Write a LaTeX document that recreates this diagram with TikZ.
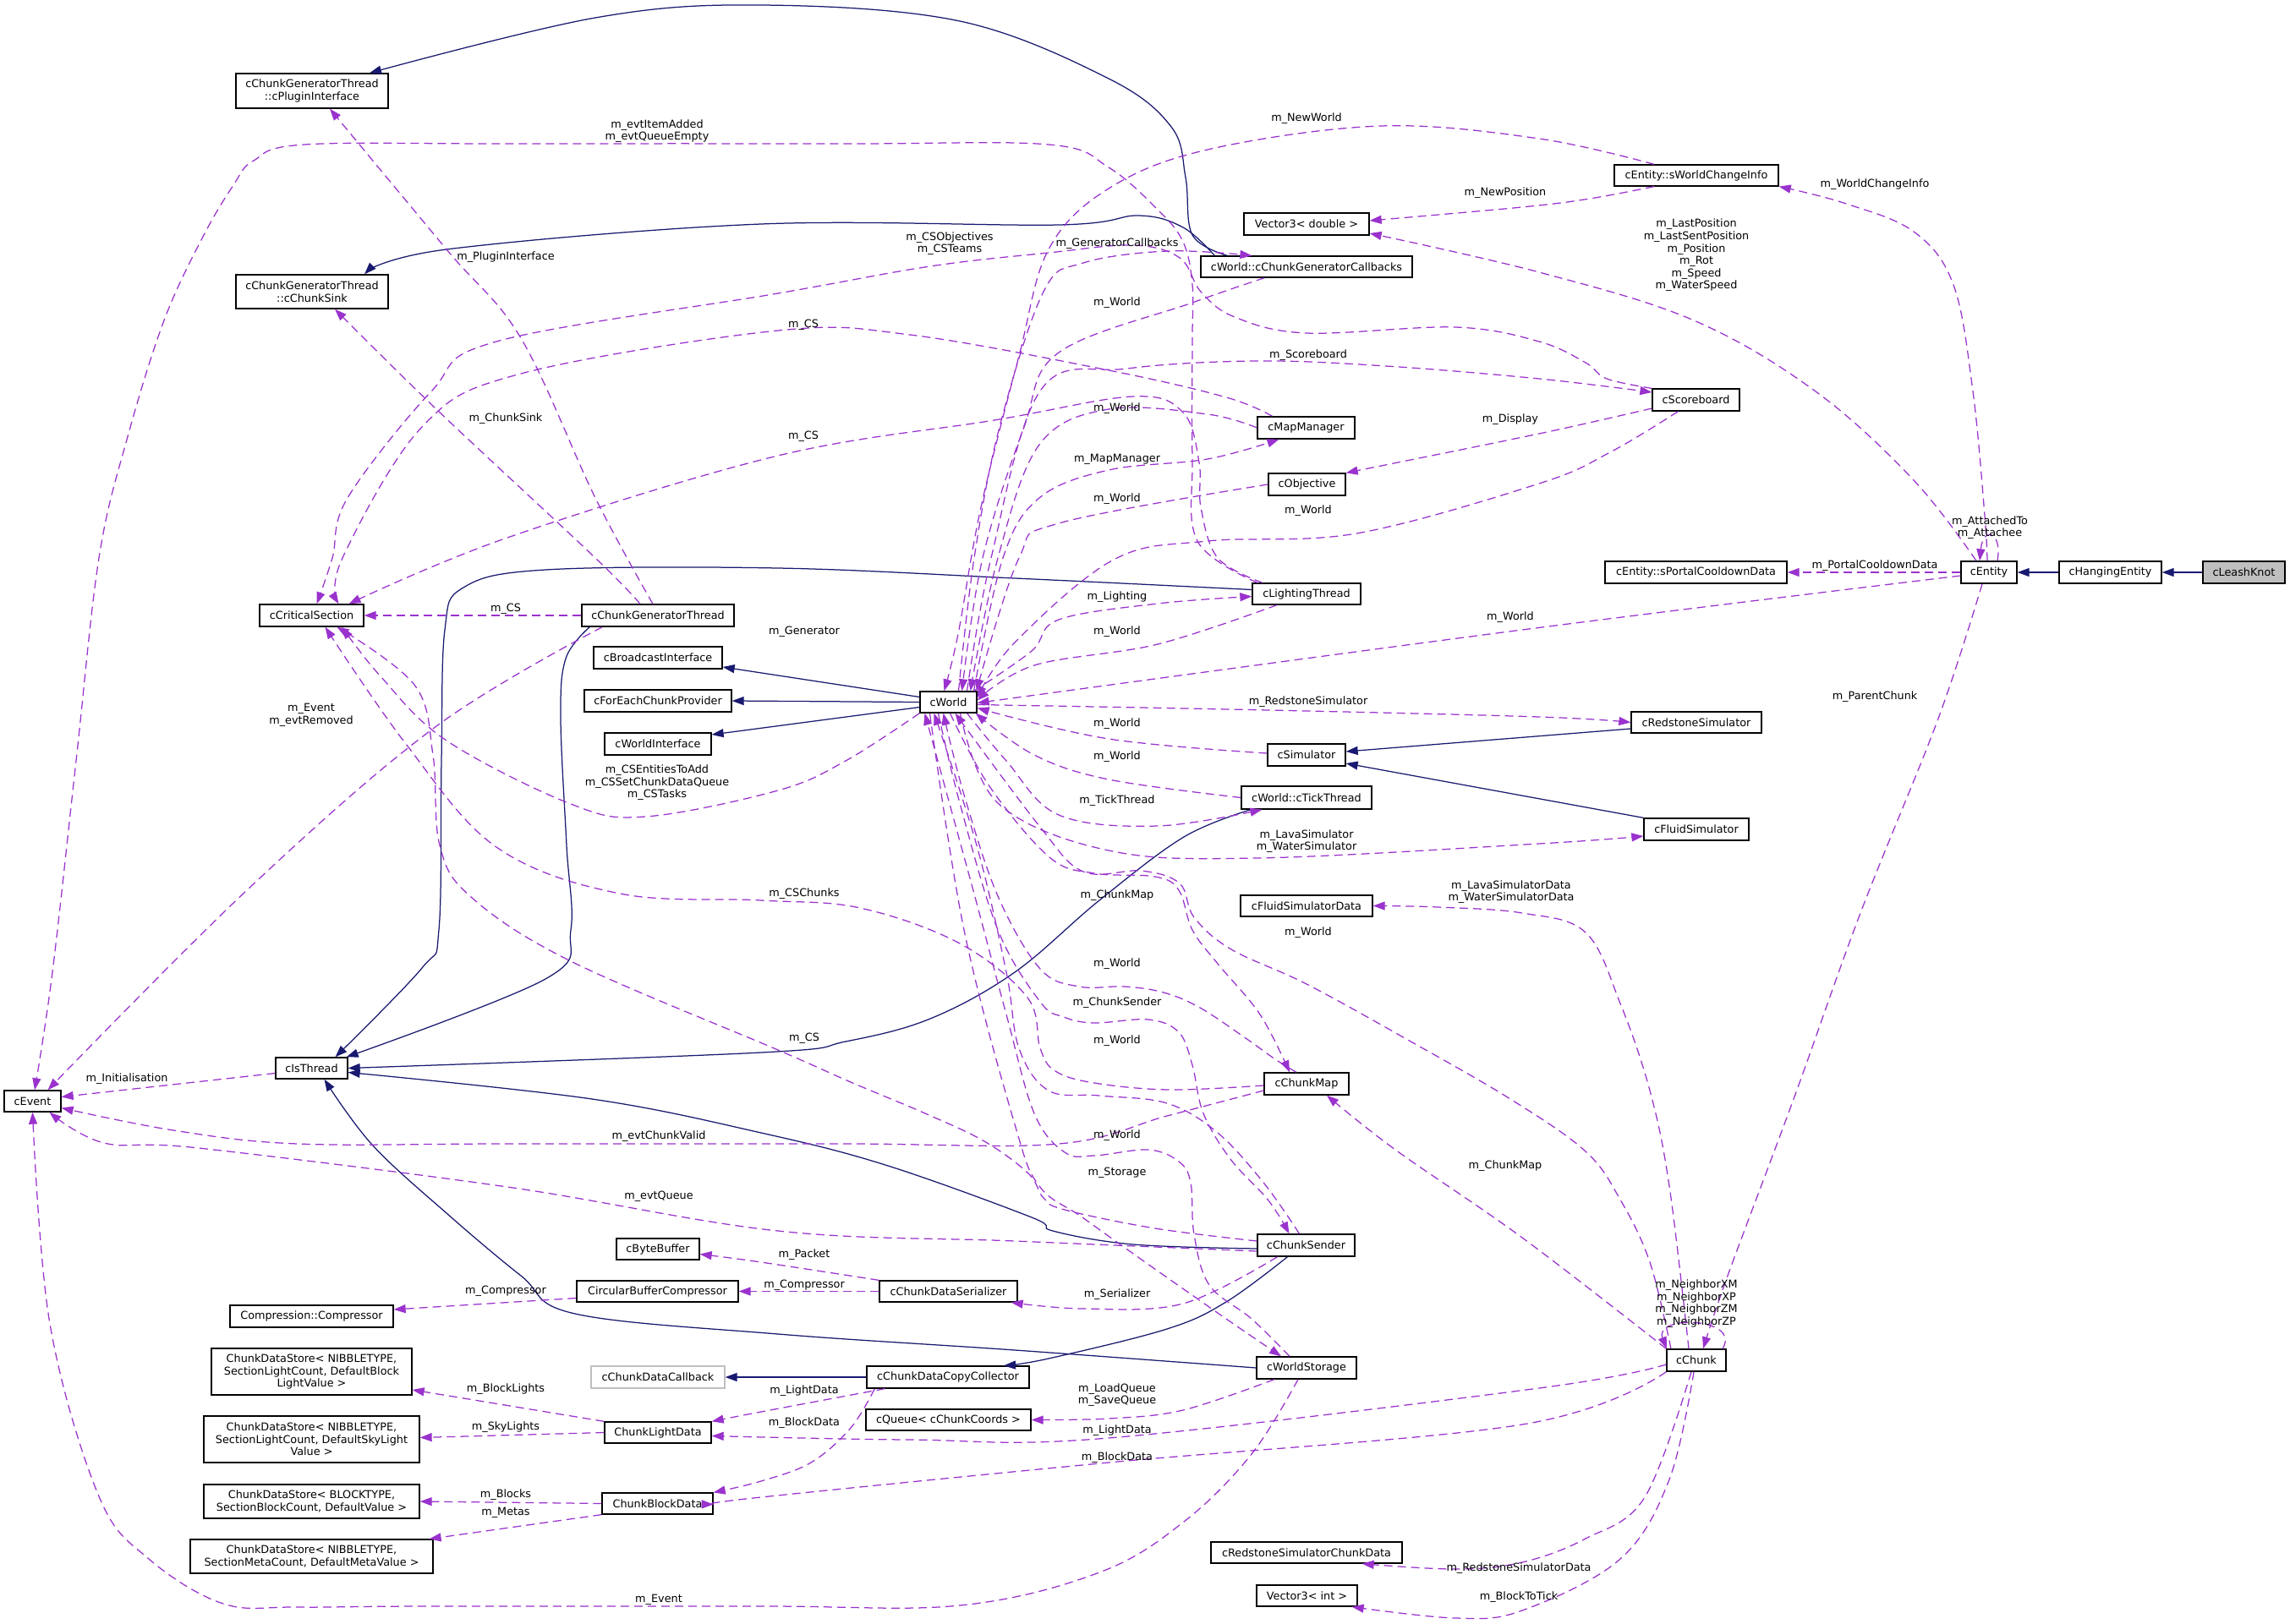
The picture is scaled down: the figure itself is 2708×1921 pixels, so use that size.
\documentclass[tikz,border=0pt]{standalone}
\usepackage{fontspec}
\setmainfont{DejaVu Sans}
\usetikzlibrary{arrows.meta}
\definecolor{inhc}{HTML}{191970}
\definecolor{usec}{HTML}{9A32CD}
\newcommand\lblfont{\fontsize{12.8}{14.6}\selectfont}
\begin{document}
\begin{tikzpicture}[x=1pt,y=-1pt,
 box/.style={draw=black, line width=1.3pt, fill=white, inner sep=0pt, font=\lblfont, align=center},
 inh/.style={draw=inhc, line width=1.25pt, -{Triangle[length=14pt,width=10pt]}},
 use/.style={draw=usec, line width=1.25pt, dash pattern=on 10pt off 6pt, -{Triangle[length=14pt,width=10pt]}},
 lab/.style={font=\lblfont, inner sep=0pt, align=center}]
\fill[white] (0,0) rectangle (2708,1921);
\useasboundingbox (0,0) rectangle (2708,1921);

% ---------- nodes ----------
\node[box, minimum width=180pt, minimum height=41pt] (pluginif) at (369,107.5) {cChunkGeneratorThread\\::cPluginInterface};
\node[box, minimum width=180pt, minimum height=40pt] (chunksink) at (369,345) {cChunkGeneratorThread\\::cChunkSink};
\node[box, minimum width=148pt, minimum height=26pt] (vec3d) at (1545,265) {Vector3< double >};
\node[box, minimum width=250pt, minimum height=25pt] (callbacks) at (1545,315.5) {cWorld::cChunkGeneratorCallbacks};
\node[box, minimum width=115pt, minimum height=26pt] (mapmgr) at (1544.5,506) {cMapManager};
\node[box, minimum width=91pt, minimum height=26pt] (objective) at (1545.5,573) {cObjective};
\node[box, minimum width=194pt, minimum height=25pt] (wci) at (2006,207.5) {cEntity::sWorldChangeInfo};
\node[box, minimum width=103pt, minimum height=26pt] (scoreboard) at (2005.5,473) {cScoreboard};
\node[box, minimum width=123pt, minimum height=26pt] (critsec) at (368.5,728) {cCriticalSection};
\node[box, minimum width=180pt, minimum height=26pt] (cgt) at (778,728) {cChunkGeneratorThread};
\node[box, minimum width=152pt, minimum height=26pt] (bcast) at (778,778) {cBroadcastInterface};
\node[box, minimum width=174pt, minimum height=26pt] (foreach) at (778,829) {cForEachChunkProvider};
\node[box, minimum width=126pt, minimum height=26pt] (worldif) at (778,880) {cWorldInterface};
\node[box, minimum width=85pt, minimum height=25pt] (isthread) at (368.5,1263.5) {cIsThread};
\node[box, minimum width=67pt, minimum height=25pt] (event) at (38.5,1302.5) {cEvent};
\node[box, minimum width=128pt, minimum height=25pt] (lighting) at (1545,702.5) {cLightingThread};
\node[box, minimum width=67pt, minimum height=25pt] (world) at (1121.5,830.5) {cWorld};
\node[box, minimum width=92pt, minimum height=26pt] (simulator) at (1545,893) {cSimulator};
\node[box, minimum width=154pt, minimum height=27pt] (tick) at (1545,943.5) {cWorld::cTickThread};
\node[box, minimum width=156pt, minimum height=25pt] (fsd) at (1545,1071.5) {cFluidSimulatorData};
\node[box, minimum width=100pt, minimum height=26pt] (chunkmap) at (1545,1282) {cChunkMap};
\node[box, minimum width=215pt, minimum height=26pt] (portal) at (2005.5,677) {cEntity::sPortalCooldownData};
\node[box, minimum width=66pt, minimum height=26pt] (entity) at (2352,677) {cEntity};
\node[box, minimum width=121pt, minimum height=26pt] (hanging) at (2495.5,677) {cHangingEntity};
\node[box, minimum width=97pt, minimum height=26pt, fill=black!25] (leash) at (2653.5,677) {cLeashKnot};
\node[box, minimum width=154pt, minimum height=25pt] (rsim) at (2006,854.5) {cRedstoneSimulator};
\node[box, minimum width=124pt, minimum height=26pt] (fsim) at (2006,981) {cFluidSimulator};
\node[box, minimum width=98pt, minimum height=25pt] (bytebuf) at (778,1477.5) {cByteBuffer};
\node[box, minimum width=191pt, minimum height=25pt] (cbc) at (777.5,1527.5) {CircularBufferCompressor};
\node[box, minimum width=193pt, minimum height=26pt] (compressor) at (368.5,1557) {Compression::Compressor};
\node[box, minimum width=237pt, minimum height=55pt] (dsbl) at (368.5,1622.5) {ChunkDataStore< NIBBLETYPE,\\ SectionLightCount, DefaultBlock\\LightValue >};
\node[box, minimum width=255pt, minimum height=55pt] (dssl) at (368.5,1702.5) {ChunkDataStore< NIBBLETYPE,\\ SectionLightCount, DefaultSkyLight\\Value >};
\node[box, minimum width=255pt, minimum height=40pt] (dsb) at (368.5,1776) {ChunkDataStore< BLOCKTYPE,\\ SectionBlockCount, DefaultValue >};
\node[box, minimum width=287pt, minimum height=40pt] (dsm) at (368.5,1841) {ChunkDataStore< NIBBLETYPE,\\ SectionMetaCount, DefaultMetaValue >};
\node[box, draw=black!25, minimum width=158pt, minimum height=26pt] (callback) at (778,1629) {cChunkDataCallback};
\node[box, minimum width=126pt, minimum height=25pt] (lightdata) at (778,1694.5) {ChunkLightData};
\node[box, minimum width=131pt, minimum height=25pt] (blockdata) at (777.5,1778.5) {ChunkBlockData};
\node[box, minimum width=115pt, minimum height=26pt] (sender) at (1544.5,1473) {cChunkSender};
\node[box, minimum width=163pt, minimum height=25pt] (serializer) at (1121.5,1527.5) {cChunkDataSerializer};
\node[box, minimum width=192pt, minimum height=26pt] (cdcc) at (1121,1629) {cChunkDataCopyCollector};
\node[box, minimum width=118pt, minimum height=26pt] (storage) at (1545,1618) {cWorldStorage};
\node[box, minimum width=195pt, minimum height=25pt] (queue) at (1121.5,1679.5) {cQueue< cChunkCoords >};
\node[box, minimum width=226pt, minimum height=25pt] (rscd) at (1545,1836.5) {cRedstoneSimulatorChunkData};
\node[box, minimum width=119pt, minimum height=25pt] (vec3i) at (1545.5,1887.5) {Vector3< int >};
\node[box, minimum width=70pt, minimum height=26pt] (chunk) at (2006,1609) {cChunk};

% ---------- inheritance ----------
\draw[inh] plot[smooth,tension=.6] coordinates {([xshift=32pt]callbacks.north west) (1410,278) (1402,210) (1385,150) (1311,93) (1135,25) (900,6) (704,21) ([xshift=68pt]pluginif.north)};
\draw[inh] plot[smooth,tension=.6] coordinates {([xshift=17pt]callbacks.north west) (1399,269) (1346,255) (1252,266) (900,265) (528,295) ([xshift=62pt]chunksink.north)};
\draw[inh] plot[smooth,tension=.6] coordinates {([yshift=5pt]lighting.west) (1200,684) (920,672) (645,674) (548,695) (526,745) (522,900) (519,1100) (499,1145) ([xshift=28pt]isthread.north)};
\draw[inh] plot[smooth,tension=.6] coordinates {([xshift=10pt]cgt.south west) (669,779) (663,850) (670,1000) (675,1100) (645,1158) ([xshift=-2pt]isthread.north east)};
\draw[inh] (world.170) -- ([yshift=-11pt]bcast.east);
\draw[inh] (world.west) -- (foreach.east);
\draw[inh] (world.190) -- ([yshift=11pt]worldif.east);
\draw[inh] plot[smooth,tension=.6] coordinates {([xshift=12pt]tick.south west) (1400,990) (1300,1065) (1200,1150) (1100,1205) (1000,1232) (900,1245) (isthread.east)};
\draw[inh] plot[smooth,tension=.6] coordinates {([yshift=-4pt]sender.west) (1340,1472) (1245,1456) (1220,1440) (1047,1378) (900,1340) (700,1300) ([yshift=-5pt]isthread.east)};
\draw[inh] plot[smooth,tension=.6] coordinates {(storage.west) (1200,1597) (920,1578) (680,1554) (616,1509) (528,1435) (440,1354) ([xshift=15pt]isthread.south)};
\draw[inh] ([yshift=-7.5pt]rsim.west) -- ([yshift=4pt]simulator.east);
\draw[inh] (fsim.north west) -- ([yshift=-10pt]simulator.east);
\draw[inh] (hanging.west) -- (entity.east);
\draw[inh] (leash.west) -- (hanging.east);
\draw[inh] plot[smooth,tension=.6] coordinates {([xshift=-22pt]sender.south) (1450,1540) (1380,1572) (1240,1607) ([xshift=66pt]cdcc.north)};
\draw[inh] (cdcc.west) -- (callback.east);

% ---------- usage ----------
% to cEvent
\draw[use] plot[smooth,tension=.6] coordinates {([xshift=-58pt]lighting.north) (1416,640) (1410,540) (1410,400) (1410,337) (1399,286) (1369,248) (1311,198) (1240,171) (1000,170) (600,170) (360,171) (300,190) (276,219) (240,280) (194,379) (150,520) (117,660) (90,900) (62,1150) ([xshift=2.5pt]event.north)};
\draw[use] plot[smooth,tension=.6] coordinates {([xshift=25pt]cgt.south west) (516,859) (293,1052) ([xshift=18pt]event.north)};
\draw[use] ([yshift=-6pt]isthread.west) -- ([yshift=5pt]event.east);
\draw[use] plot[smooth,tension=.6] coordinates {([yshift=-8pt]chunkmap.west) (1380,1320) (1252,1353) (1000,1353) (600,1353) (352,1353) (205,1337) ([yshift=-8pt]event.east)};
\draw[use] plot[smooth,tension=.6] coordinates {([yshift=-7pt]sender.west) (1200,1468) (920,1456) (600,1404) (235,1358) (123,1352) ([xshift=20pt]event.south)};
\draw[use] plot[smooth,tension=.6] coordinates {([xshift=-10pt]storage.south) (1480,1720) (1400,1800) (1300,1860) (1135,1899) (900,1900) (500,1900) (352,1901) (264,1897) (176,1844) (117,1770) (59,1566) (event.south)};
% to cCriticalSection
\draw[use] (cgt.west) -- (critsec.east);
\draw[use] plot[smooth,tension=.6] coordinates {(scoreboard.north west) (1900,448) (1875,429) (1820,404) (1721,387) (1545,394) (1460,375) (1420,345) (1395,305) (1340,290) (1240,299) (1100,315) (920,347) (587,404) (510,463) (411,589) (393,660) ([xshift=6pt]critsec.north)};
\draw[use] plot[smooth,tension=.6] coordinates {([xshift=-40pt]mapmgr.north) (1450,470) (1311,438) (1076,396) (920,391) (616,442) (499,505) (405,660) ([xshift=32pt]critsec.north)};
\draw[use] plot[smooth,tension=.6] coordinates {([xshift=-52pt]lighting.north) (1440,660) (1420,600) (1418,547) (1399,488) (1340,469) (1176,497) (920,539) (600,636) ([xshift=44pt]critsec.north)};
\draw[use] plot[smooth,tension=.6] coordinates {(world.south west) (1000,900) (920,935) (763,966) (675,951) (528,876) (450,800) ([xshift=36pt]critsec.south)};
\draw[use] plot[smooth,tension=.6] coordinates {([yshift=-2pt]chunkmap.west) (1383,1289) (1294,1281) (1248,1267) (1230,1240) (1215,1180) (1135,1116) (1017,1074) (900,1065) (733,1057) (587,1002) (480,880) ([xshift=16pt]critsec.south)};
\draw[use] plot[smooth,tension=.6] coordinates {([yshift=5pt]sender.west) (1366,1453) (1259,1431) (1234,1417) (1216,1388) (1164,1350) (1094,1317) (1006,1280) (920,1242) (675,1137) (557,1061) (520,1000) (512,893) (490,810) ([xshift=30pt]critsec.south)};
% top area
\draw[use] plot[smooth,tension=.6] coordinates {([xshift=-6pt]cgt.north) (704,589) (616,400) (528,295) ([xshift=21pt]pluginif.south)};
\draw[use] plot[smooth,tension=.6] coordinates {([xshift=-21pt]cgt.north) (704,660) (516,484) ([xshift=27pt]chunksink.south)};
\draw[use] plot[smooth,tension=.6] coordinates {([xshift=-50pt]wci.north) (1820,164) (1633,149) (1428,177) (1311,223) (1240,295) (1205,421) (1160,600) (1133,750) ([xshift=-5pt]world.north)};
\draw[use] plot[smooth,tension=.6] coordinates {([xshift=-50pt]wci.south) (1880,235) (1800,245) ([yshift=4pt]vec3d.east)};
\draw[use] plot[smooth,tension=.6] coordinates {([xshift=-15pt]entity.north) (2263,568) (2147,463) (2003,379) (1820,322) ([yshift=-11pt]vec3d.east)};
\draw[use] plot[smooth,tension=.6] coordinates {([xshift=-2pt]entity.north) (2347,610) (2333,463) (2310,337) (2263,274) (2180,240) (wci.south east)};
\draw[use] ([xshift=10pt]entity.north) .. controls (2368,628) and (2345,622) .. ([xshift=-11pt]entity.north);
\draw[use] plot[smooth,tension=.6] coordinates {([xshift=12pt]world.north) (1152,660) (1182,505) (1234,345) (1281,311) (1381,297) ([xshift=61pt]callbacks.north west)};
\draw[use] plot[smooth,tension=.6] coordinates {([xshift=76pt]callbacks.south west) (1410,358) (1252,417) (1211,505) (1162,660) ([xshift=16pt]world.north)};
\draw[use] plot[smooth,tension=.6] coordinates {([xshift=22pt]world.north) (1172,660) (1231,461) (1333,436) (1486,427) (1639,433) (1820,448) ([yshift=9pt]scoreboard.west)};
\draw[use] plot[smooth,tension=.6] coordinates {(mapmgr.west) (1428,490) (1311,484) (1229,526) (1180,660) ([xshift=26pt]world.north)};
\draw[use] plot[smooth,tension=.6] coordinates {([xshift=30pt]world.north) (1186,660) (1229,589) (1311,556) (1428,543) ([xshift=-32pt]mapmgr.south)};
\draw[use] plot[smooth,tension=.6] coordinates {(objective.west) (1252,619) (1205,660) ([xshift=-1pt]world.north east)};
\draw[use] plot[smooth,tension=.6] coordinates {([yshift=-10pt]scoreboard.west) (1820,513) (objective.north east)};
\draw[use] plot[smooth,tension=.6] coordinates {([xshift=-21pt]scoreboard.south) (1904,535) (1820,572) (1604,631) (1428,640) (1317,662) (1200,760) ([yshift=5pt]world.east)};
% right of cWorld
\draw[use] plot[smooth,tension=.6] coordinates {([xshift=-4pt]world.north east) (1220,770) (1252,733) (1369,714) ([yshift=-3pt]lighting.west)};
\draw[use] plot[smooth,tension=.6] coordinates {([xshift=-35pt]lighting.south) (1369,762) (1223,787) ([yshift=2pt]world.east)};
\draw[use] plot[smooth,tension=.6] coordinates {([yshift=-4pt]entity.west) (1800,745) ([yshift=-1pt]world.east)};
\draw[use] plot[smooth,tension=.6] coordinates {([yshift=-3pt]world.east) (1500,840) (1820,848) (rsim.west)};
\draw[use] plot[smooth,tension=.6] coordinates {([yshift=2pt]simulator.west) (1311,874) ([yshift=-7pt]world.east)};
\draw[use] plot[smooth,tension=.6] coordinates {(tick.west) (1311,922) (1223,893) ([xshift=-2pt]world.south east)};
\draw[use] plot[smooth,tension=.6] coordinates {([xshift=22pt]world.south) (1190,900) (1252,964) (1369,977) ([xshift=25pt]tick.south west)};
\draw[use] plot[smooth,tension=.6] coordinates {([xshift=14pt]world.south) (1180,950) (1311,1006) (1487,1015) (1820,998) ([yshift=-8pt]fsim.west)};
\draw[use] plot[smooth,tension=.6] coordinates {([xshift=-9pt]chunk.north) (1974,1403) (1951,1290) (1916,1187) (1875,1103) (1800,1080) (1700,1073) (fsd.east)};
\draw[use] plot[smooth,tension=.6] coordinates {([xshift=-30pt]chunk.north) (1951,1493) (1916,1419) (1875,1362) (1786,1300) (1663,1229) (1545,1164) (1456,1123) (1412,1085) (1395,1045) (1350,1030) (1281,1031) (1229,977) ([xshift=8pt]world.south)};
% below cWorld
\draw[use] plot[smooth,tension=.6] coordinates {([xshift=2pt]world.south) (1170,930) (1241,1014) (1294,1033) (1366,1037) (1394,1053) (1410,1100) (1440,1140) (1490,1200) ([xshift=-20pt]chunkmap.north)};
\draw[use] plot[smooth,tension=.6] coordinates {([xshift=-12pt]chunkmap.north) (1508,1253) (1473,1228) (1419,1192) (1376,1174) (1330,1167) (1276,1167) (1230,1146) (1180,1060) (1140,940) ([xshift=-6pt]world.south)};
\draw[use] plot[smooth,tension=.6] coordinates {([xshift=-12pt]world.south) (1135,950) (1180,1100) (1230,1185) (1258,1203) (1294,1210) (1358,1206) (1394,1221) (1410,1260) (1423,1317) (1455,1371) (1500,1420) ([xshift=-20pt]sender.north)};
\draw[use] plot[smooth,tension=.6] coordinates {([xshift=-8pt]sender.north) (1495,1400) (1440,1340) (1380,1305) (1300,1296) (1240,1290) (1205,1240) (1190,1150) (1155,1000) ([xshift=-17pt]world.south)};
\draw[use] plot[smooth,tension=.6] coordinates {([xshift=-22pt]world.south) (1140,1100) (1200,1330) (1229,1403) (1280,1440) (1350,1490) (1450,1560) ([xshift=-30pt]storage.north)};
\draw[use] plot[smooth,tension=.6] coordinates {([xshift=-20pt]storage.north) (1480,1560) (1430,1520) (1412,1460) (1408,1399) (1394,1374) (1358,1360) (1294,1367) (1259,1363) (1223,1317) (1190,1200) (1150,1050) ([xshift=-28pt]world.south)};
\draw[use] plot[smooth,tension=.6] coordinates {(chunk.north west) (1800,1464) (1650,1360) ([xshift=24pt]chunkmap.south)};
\draw[use] ([xshift=31pt]chunk.north) .. controls (2060,1558) and (1955,1555) .. ([xshift=-35pt]chunk.north);
\draw[use] plot[smooth,tension=.6] coordinates {([xshift=-8pt]entity.south) (2292,850) (2200,1080) (2121,1300) (2043,1509) ([xshift=8pt]chunk.north)};
\draw[use] (entity.west) -- (portal.east);
% lower area
\draw[use] plot[smooth,tension=.6] coordinates {(serializer.north west) (900,1493) ([yshift=-6pt]bytebuf.east)};
\draw[use] (serializer.west) -- (cbc.east);
\draw[use] ([yshift=-8pt]cbc.west) -- ([yshift=8pt]compressor.east);
\draw[use] plot[smooth,tension=.6] coordinates {([xshift=-34pt]sender.south) (1399,1542) (1281,1548) ([xshift=-8pt]serializer.south east)};
\draw[use] plot[smooth,tension=.6] coordinates {([xshift=22pt]cdcc.south west) (900,1670) (lightdata.north east)};
\draw[use] plot[smooth,tension=.6] coordinates {([xshift=10pt]cdcc.south west) (1006,1689) (959,1730) (900,1752) (blockdata.north east)};
\draw[use] plot[smooth,tension=.6] coordinates {([yshift=-5pt]chunk.west) (1820,1642) (1311,1701) (1076,1703) ([yshift=-4pt]lightdata.east)};
\draw[use] plot[smooth,tension=.6] coordinates {(chunk.south west) (1800,1685) (1311,1730) (900,1771) ([yshift=-1pt]blockdata.east)};
\draw[use] (lightdata.north west) -- ([yshift=-21.5pt]dsbl.east);
\draw[use] (lightdata.west) -- ([yshift=2pt]dssl.east);
\draw[use] (blockdata.west) -- (dsb.east);
\draw[use] (blockdata.south west) -- ([xshift=-5pt]dsm.north east);
\draw[use] plot[smooth,tension=.6] coordinates {([xshift=-38pt]storage.south) (1399,1668) (1311,1678) (queue.east)};
\draw[use] plot[smooth,tension=.6] coordinates {([xshift=-6pt]chunk.south) (1945,1771) (1875,1820) (1800,1848) (1721,1856) ([xshift=-48pt]rscd.south east)};
\draw[use] plot[smooth,tension=.6] coordinates {([xshift=-3pt]chunk.south) (1974,1750) (1916,1844) (1800,1905) (1721,1914) ([xshift=-7pt]vec3i.south east)};

% ---------- labels ----------
\node[lab] (l1) at (777,155) {m\_evtItemAdded\\m\_evtQueueEmpty};
\node[lab] (l2) at (598,304) {m\_PluginInterface};
\node[lab] (l3) at (598,495) {m\_ChunkSink};
\node[lab] (l4) at (1545,140) {m\_NewWorld};
\node[lab] (l5) at (1780,228) {m\_NewPosition};
\node[lab] (l6) at (1123,288) {m\_CSObjectives\\m\_CSTeams};
\node[lab] (l7) at (1321,288) {m\_GeneratorCallbacks};
\node[lab] (l8) at (1321,358) {m\_World};
\node[lab] (l9) at (950,384) {m\_CS};
\node[lab] (l10) at (1547,420) {m\_Scoreboard};
\node[lab] (l11) at (1321,483) {m\_World};
\node[lab] (l12) at (950,516) {m\_CS};
\node[lab] (l13) at (1321,543) {m\_MapManager};
\node[lab] (l14) at (1786,496) {m\_Display};
\node[lab] (l15) at (1321,590) {m\_World};
\node[lab] (l16) at (1547,604) {m\_World};
\node[lab] (l17) at (2217,218) {m\_WorldChangeInfo};
\node[lab] (l18) at (2006,302) {m\_LastPosition\\m\_LastSentPosition\\m\_Position\\m\_Rot\\m\_Speed\\m\_WaterSpeed};
\node[lab] (l19) at (2353,624) {m\_AttachedTo\\m\_Attachee};
\node[lab] (l20) at (598,720) {m\_CS};
\node[lab] (l21) at (368,846) {m\_Event\\m\_evtRemoved};
\node[lab] (l22) at (777,926) {m\_CSEntitiesToAdd\\m\_CSSetChunkDataQueue\\m\_CSTasks};
\node[lab] (l23) at (150,1276) {m\_Initialisation};
\node[lab] (l24) at (1321,706) {m\_Lighting};
\node[lab] (l25) at (1321,747) {m\_World};
\node[lab] (l26) at (951,747) {m\_Generator};
\node[lab] (l27) at (1786,730) {m\_World};
\node[lab] (l28) at (1547,830) {m\_RedstoneSimulator};
\node[lab] (l29) at (1321,856) {m\_World};
\node[lab] (l30) at (1321,895) {m\_World};
\node[lab] (l31) at (1321,947) {m\_TickThread};
\node[lab] (l32) at (1545,995) {m\_LavaSimulator\\m\_WaterSimulator};
\node[lab] (l33) at (1787,1055) {m\_LavaSimulatorData\\m\_WaterSimulatorData};
\node[lab] (l34) at (951,1057) {m\_CSChunks};
\node[lab] (l35) at (1321,1059) {m\_ChunkMap};
\node[lab] (l36) at (1547,1103) {m\_World};
\node[lab] (l37) at (1321,1140) {m\_World};
\node[lab] (l38) at (1321,1186) {m\_ChunkSender};
\node[lab] (l39) at (951,1228) {m\_CS};
\node[lab] (l40) at (1321,1231) {m\_World};
\node[lab] (l41) at (2217,669) {m\_PortalCooldownData};
\node[lab] (l42) at (2217,824) {m\_ParentChunk};
\node[lab] (l43) at (779,1344) {m\_evtChunkValid};
\node[lab] (l44) at (779,1415) {m\_evtQueue};
\node[lab] (l45) at (598,1527) {m\_Compressor};
\node[lab] (l46) at (598,1643) {m\_BlockLights};
\node[lab] (l47) at (598,1688) {m\_SkyLights};
\node[lab] (l48) at (598,1768) {m\_Blocks};
\node[lab] (l49) at (598,1789) {m\_Metas};
\node[lab] (l50) at (779,1892) {m\_Event};
\node[lab] (l51) at (1321,1343) {m\_World};
\node[lab] (l52) at (1321,1387) {m\_Storage};
\node[lab] (l53) at (951,1484) {m\_Packet};
\node[lab] (l54) at (951,1520) {m\_Compressor};
\node[lab] (l55) at (1321,1531) {m\_Serializer};
\node[lab] (l56) at (951,1645) {m\_LightData};
\node[lab] (l57) at (1321,1650) {m\_LoadQueue\\m\_SaveQueue};
\node[lab] (l58) at (951,1683) {m\_BlockData};
\node[lab] (l59) at (1321,1692) {m\_LightData};
\node[lab] (l60) at (1321,1724) {m\_BlockData};
\node[lab] (l61) at (1780,1379) {m\_ChunkMap};
\node[lab] (l62) at (1796,1855) {m\_RedstoneSimulatorData};
\node[lab] (l63) at (1796,1889) {m\_BlockToTick};
\node[lab] (l64) at (2006,1542) {m\_NeighborXM\\m\_NeighborXP\\m\_NeighborZM\\m\_NeighborZP};
\end{tikzpicture}
\end{document}
